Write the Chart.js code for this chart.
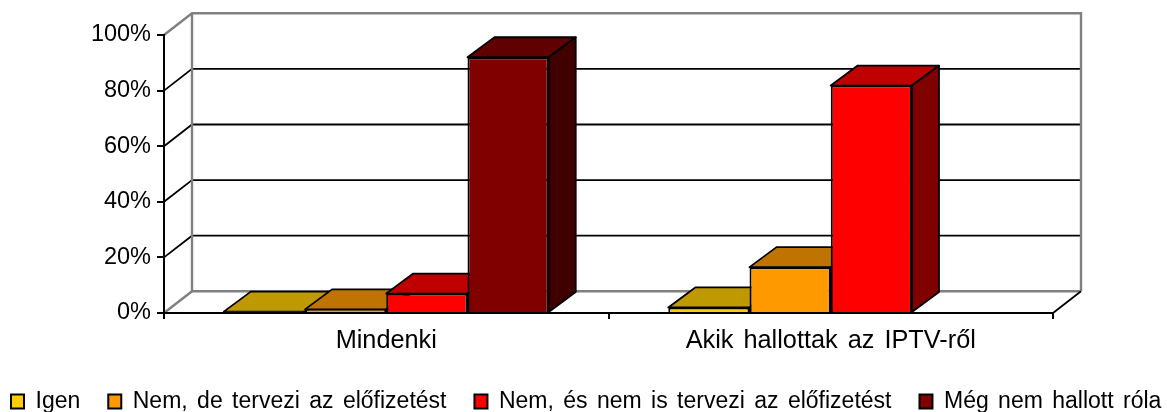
<!DOCTYPE html>
<html><head><meta charset="utf-8">
<style>html,body{margin:0;padding:0;background:#fff}canvas{display:block}</style>
<script src="https://cdn.jsdelivr.net/npm/chart.js@4"></script>
</head><body><canvas id="c" width="1167" height="412"></canvas>
<script>
const categories = ['Mindenki', 'Akik hallottak az IPTV-ről'];
const seriesNames = ['Igen', 'Nem, de tervezi az előfizetést', 'Nem, és nem is tervezi az előfizetést', 'Még nem hallott róla'];
const igen = [0.5, 2];
const nemDe = [1.3, 16.5];
const nemEs = [7, 81.8];
const megNem = [92, null];
const frontColors = ['#FFCC00', '#FF9900', '#FF0000', '#800000'];
const topColors = ['#BF9900', '#BF7300', '#BF0000', '#600000'];
const sideColors = ['#806600', '#804D00', '#800000', '#400000'];

const FONT = '"Liberation Sans", Arial, sans-serif';
const WALL = {dx: 28, dy: 21.7}, BAR = {dx: 27, dy: 20};
const LEGEND = {left: -17, top: 362, pad: 28};

function line(ctx, pts, color, w) {
  ctx.beginPath();
  pts.forEach((p, i) => i ? ctx.lineTo(p[0], p[1]) : ctx.moveTo(p[0], p[1]));
  ctx.strokeStyle = color; ctx.lineWidth = w; ctx.stroke();
}
function face(ctx, pts, fill) {
  ctx.beginPath();
  pts.forEach((p, i) => i ? ctx.lineTo(p[0], p[1]) : ctx.moveTo(p[0], p[1]));
  ctx.closePath();
  ctx.fillStyle = fill; ctx.fill();
  ctx.strokeStyle = '#000'; ctx.lineWidth = 1.8; ctx.lineJoin = 'round'; ctx.stroke();
}
const box3d = {
  id: 'box3d',
  beforeLayout(chart) {
    chart.ctx.wordSpacing = '3px';
    const lg = chart.legend;
    if (lg && !lg.__wide) {
      lg.__wide = true;
      const fit = lg.fit;
      lg.fit = function () { this.maxWidth = 3000; fit.call(this); this.height = 30; };
    }
  },
  afterLayout(chart) {
    const lg = chart.legend;
    lg.left = LEGEND.left; lg.right = 3000; lg.top = LEGEND.top; lg.bottom = 412;
  },
  beforeDraw(chart) {
    const {ctx, chartArea: a, scales: {y}} = chart;
    const d = WALL;
    ctx.wordSpacing = '3px';
    ctx.save();
    y.ticks.forEach(t => {
      if (t.value === 0 || t.value === 100) return;
      const py = y.getPixelForValue(t.value);
      line(ctx, [[a.left, py], [a.left + d.dx, py - d.dy], [a.right + d.dx, py - d.dy]], '#000', 1.8);
    });
    const gr = '#808080';
    line(ctx, [[a.left, a.top], [a.left + d.dx, a.top - d.dy], [a.right + d.dx, a.top - d.dy], [a.right + d.dx, a.bottom - d.dy]], gr, 2.4);
    line(ctx, [[a.left + d.dx, a.top - d.dy], [a.left + d.dx, a.bottom - d.dy], [a.right + d.dx, a.bottom - d.dy]], gr, 2.4);
    line(ctx, [[a.left, a.bottom], [a.left + d.dx, a.bottom - d.dy]], gr, 2.4);
    line(ctx, [[a.right, a.bottom], [a.right + d.dx, a.bottom - d.dy]], '#000', 1.8);
    ctx.restore();
  },
  beforeDatasetDraw() { return false; },
  afterDatasetsDraw(chart) {
    const {ctx} = chart;
    ctx.save();
    chart.data.datasets.forEach((ds, i) => {
      const meta = chart.getDatasetMeta(i);
      meta.data.forEach((bar, k) => {
        if (ds.data[k] == null) return;
        const p = bar.getProps(['x', 'y', 'base', 'width'], true);
        const l = p.x - p.width / 2, r = p.x + p.width / 2;
        const {dx, dy} = BAR;
        face(ctx, [[l, p.y], [l + dx, p.y - dy], [r + dx, p.y - dy], [r, p.y]], topColors[i]);
        face(ctx, [[r, p.y], [r + dx, p.y - dy], [r + dx, p.base - dy], [r, p.base]], sideColors[i]);
        bar.draw(ctx);
      });
    });
    ctx.restore();
  }
};

const seriesValues = [igen, nemDe, nemEs, megNem];
new Chart(document.getElementById('c'), {
  type: 'bar',
  plugins: [box3d],
  data: {
    labels: categories,
    datasets: seriesNames.map((name, i) => ({
      label: name,
      data: seriesValues[i],
      backgroundColor: frontColors[i],
      borderColor: '#000',
      borderWidth: 2,
      categoryPercentage: 0.731,
      barPercentage: 1
    }))
  },
  options: {
    responsive: false,
    animation: false,
    devicePixelRatio: 1,
    layout: {padding: {left: 0, right: 0, top: 35, bottom: 0}},
    plugins: {
      tooltip: {enabled: false},
      legend: {
        position: 'bottom',
        align: 'start',
        labels: {
          font: {family: FONT, size: 23},
          color: '#000',
          boxWidth: 13,
          boxHeight: 14,
          padding: LEGEND.pad
        }
      }
    },
    scales: {
      x: {
        afterFit(s) { s.height = 69; },
        border: {display: true, color: '#000', width: 2},
        grid: {drawOnChartArea: false, drawTicks: true, tickLength: 6, color: '#000', lineWidth: 2},
        ticks: {font: {family: FONT, size: 25.3}, color: '#000', padding: 7, maxRotation: 0}
      },
      y: {
        min: 0, max: 100,
        afterFit(s) { s.width = 164; },
        border: {display: true, color: '#000', width: 2},
        grid: {drawOnChartArea: false, drawTicks: true, tickLength: 7, color: '#000', lineWidth: 2},
        ticks: {stepSize: 20, font: {family: FONT, size: 23.5}, color: '#000', padding: 6, callback: v => v + '%'}
      },
      spacer: {
        type: 'linear',
        position: 'right',
        afterFit(s) { s.width = 114; },
        border: {display: false},
        grid: {display: false},
        ticks: {display: false}
      }
    }
  }
});
</script></body></html>
